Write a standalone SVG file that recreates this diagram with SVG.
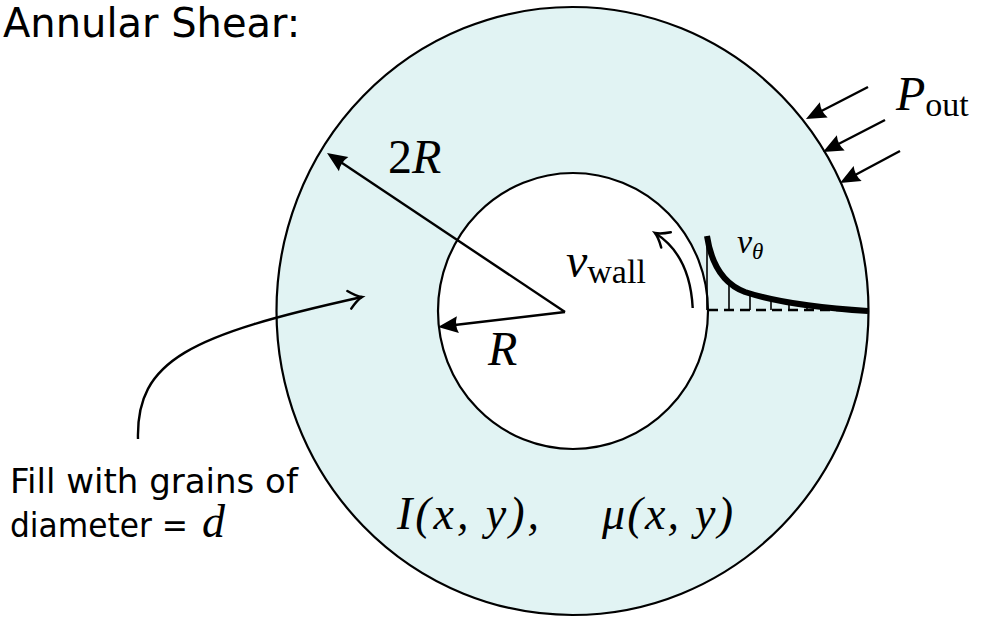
<svg xmlns="http://www.w3.org/2000/svg" width="981" height="617" viewBox="0 0 981 617">
<style>
.sans{font-family:"DejaVu Sans",sans-serif;fill:#000}
.math{font-family:"Liberation Serif","Times New Roman",serif;fill:#000}
.it{font-style:italic}
.ln{fill:none;stroke:#000;stroke-width:2.4}
</style>
<defs>
<marker id="latex" viewBox="-22 -11 23 22" refX="-6" refY="0" markerWidth="23" markerHeight="22" markerUnits="userSpaceOnUse" orient="auto" overflow="visible">
<path d="M0,0 L-20,-8.5 Q-16.5,0 -20,8.5 Z" fill="#000"/>
</marker>
<marker id="to" viewBox="-15 -11 17 22" refX="0" refY="0" markerWidth="17" markerHeight="22" markerUnits="userSpaceOnUse" orient="auto" overflow="visible">
<path d="M-13,-9 Q-5.5,-2 0,0 Q-5.5,2 -13,9" fill="none" stroke="#000" stroke-width="2.5" stroke-linecap="round"/>
</marker>
</defs>
<rect width="981" height="617" fill="#fff"/>
<g id="annulus">
<ellipse cx="572.5" cy="311" rx="296" ry="304" fill="#e1f3f3" stroke="#000" stroke-width="2.2"/>
<ellipse cx="573" cy="311" rx="135" ry="138" fill="#fff" stroke="#000" stroke-width="2.2"/>
</g>
<g id="velocity-profile">
<g stroke="#000" stroke-width="1.6">
<line x1="707" y1="236" x2="707" y2="310"/>
<line x1="729" y1="284" x2="729" y2="310"/>
<line x1="750" y1="293" x2="750" y2="310"/>
<line x1="771" y1="298" x2="771" y2="310"/>
<line x1="789" y1="301" x2="789" y2="310"/>
<line x1="807" y1="304" x2="807" y2="310"/>
<line x1="825" y1="306" x2="825" y2="310"/>
</g>
<line x1="708" y1="310" x2="866" y2="310" stroke="#000" stroke-width="2.6" stroke-dasharray="10 6"/>
<path d="M707,236 C711,262 721,283 745,292 C775,302 820,308 868,311" fill="none" stroke="#000" stroke-width="6"/>
</g>
<g id="connectors">
<line class="ln" x1="565" y1="312" x2="332" y2="156.3" marker-end="url(#latex)"/>
<line class="ln" x1="565" y1="312" x2="444" y2="326.3" marker-end="url(#latex)"/>
<line class="ln" x1="868" y1="87" x2="811.3" y2="116.3" marker-end="url(#latex)"/>
<line class="ln" x1="885" y1="120" x2="828.3" y2="149.3" marker-end="url(#latex)"/>
<line class="ln" x1="900" y1="151" x2="845.3" y2="180.2" marker-end="url(#latex)"/>
<path class="ln" d="M138,439 C136,360 190,335 362,297" marker-end="url(#to)"/>
<path class="ln" d="M692.7,308 Q690,255 655,233" marker-end="url(#to)"/>
</g>
<g id="title">
<text class="sans" x="3" y="37" font-size="40">Annular Shear:</text>
</g>
<g id="fill-label">
<text class="sans" x="10" y="493" font-size="34">Fill with grains of</text>
<text class="sans" x="10" y="537" font-size="34" textLength="178" lengthAdjust="spacingAndGlyphs">diameter =</text>
<text class="math it" x="202" y="537" font-size="46">d</text>
</g>
<g id="radius-labels">
<text class="math" x="388" y="173" font-size="48">2<tspan class="it">R</tspan></text>
<text class="math it" x="488" y="365" font-size="48">R</text>
</g>
<g id="wall-label">
<text class="math" x="566" y="277" font-size="48"><tspan class="it">v</tspan><tspan font-size="34" dy="6">wall</tspan></text>
</g>
<g id="vtheta-label">
<text class="math" x="737" y="253" font-size="34"><tspan class="it">v</tspan><tspan class="it" font-size="23" dy="6">θ</tspan></text>
</g>
<g id="pout-label">
<text class="math" x="896" y="110" font-size="48"><tspan class="it">P</tspan><tspan font-size="34" dy="6">out</tspan></text>
</g>
<g id="field-label">
<text class="math it" x="397" y="529" font-size="46" textLength="142" lengthAdjust="spacing">I(x, y),</text>
<text class="math it" x="602" y="529" font-size="46" textLength="131" lengthAdjust="spacing">μ(x, y)</text>
</g>
</svg>
